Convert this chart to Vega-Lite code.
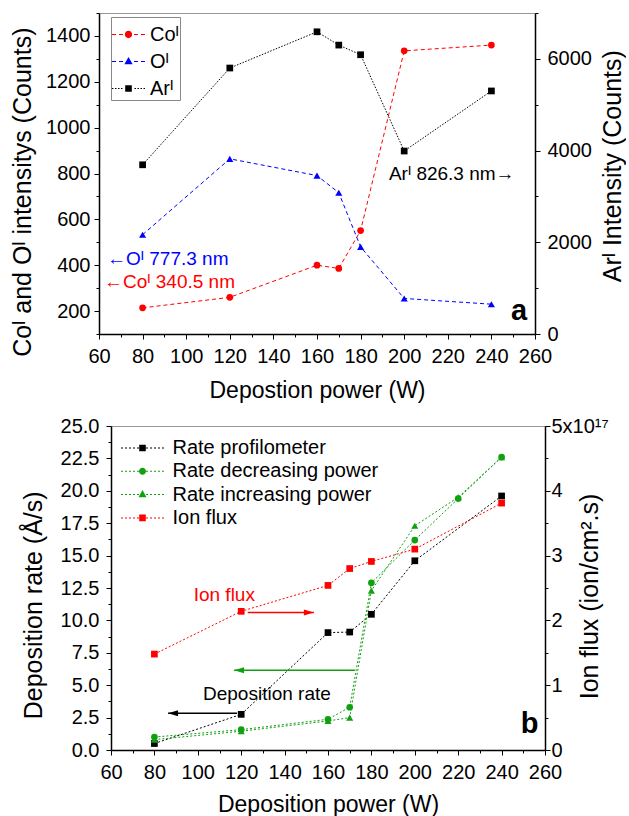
{
  "$schema": "https://vega.github.io/schema/vega-lite/v6.json",
  "padding": {"left": 9, "top": 2, "right": 0, "bottom": 0},
  "spacing": 12,
  "config": {
    "font": "Liberation Sans",
    "view": {"stroke": "#999999", "strokeWidth": 1},
    "axis": {
      "grid": false, "domainColor": "#000000", "domainWidth": 1.5,
      "tickColor": "#000000", "tickWidth": 1,
      "labelFont": "Liberation Sans", "labelFontSize": 20, "labelColor": "#000000",
      "labelOverlap": false, "labelFlush": false, "labelBound": false,
      "titleFont": "Liberation Sans", "titleFontWeight": "normal", "titleColor": "#000000"
    },
    "legend": {"labelFont": "Liberation Sans", "labelFontSize": 20, "labelColor": "#000000", "labelLimit": 400}
  },
  "resolve": {"scale": {"color": "independent", "shape": "independent"}, "legend": {"color": "independent", "shape": "independent"}},
  "datasets": {
    "top": [
      {"power": 80, "series": "Coᴵ", "value": 214}, {"power": 120, "series": "Coᴵ", "value": 260}, {"power": 160, "series": "Coᴵ", "value": 400}, {"power": 170, "series": "Coᴵ", "value": 386}, {"power": 180, "series": "Coᴵ", "value": 551}, {"power": 200, "series": "Coᴵ", "value": 1335}, {"power": 240, "series": "Coᴵ", "value": 1360},
      {"power": 80, "series": "Oᴵ", "value": 533}, {"power": 120, "series": "Oᴵ", "value": 864}, {"power": 160, "series": "Oᴵ", "value": 791}, {"power": 170, "series": "Oᴵ", "value": 716}, {"power": 180, "series": "Oᴵ", "value": 480}, {"power": 200, "series": "Oᴵ", "value": 255}, {"power": 240, "series": "Oᴵ", "value": 230},
      {"power": 80, "series": "Arᴵ", "value": 3690}, {"power": 120, "series": "Arᴵ", "value": 5800}, {"power": 160, "series": "Arᴵ", "value": 6590}, {"power": 170, "series": "Arᴵ", "value": 6300}, {"power": 180, "series": "Arᴵ", "value": 6090}, {"power": 200, "series": "Arᴵ", "value": 3990}, {"power": 240, "series": "Arᴵ", "value": 5300}
    ],
    "topNotes": [
      {"power": 193, "value": 798, "label": "Arᴵ 826.3 nm→", "kind": "ar"},
      {"power": 63.7, "value": 426, "label": "←Oᴵ 777.3 nm", "kind": "o"},
      {"power": 62.3, "value": 326, "label": "←Coᴵ 340.5 nm", "kind": "co"}
    ],
    "topTag": [{"power": 252.7, "value": 161, "label": "a"}],
    "bottom": [
      {"power": 80, "series": "Rate profilometer", "value": 0.5}, {"power": 120, "series": "Rate profilometer", "value": 2.75}, {"power": 160, "series": "Rate profilometer", "value": 9.06}, {"power": 170, "series": "Rate profilometer", "value": 9.1}, {"power": 180, "series": "Rate profilometer", "value": 10.47}, {"power": 200, "series": "Rate profilometer", "value": 14.6}, {"power": 240, "series": "Rate profilometer", "value": 19.6},
      {"power": 80, "series": "Rate decreasing power", "value": 1.0}, {"power": 120, "series": "Rate decreasing power", "value": 1.57}, {"power": 160, "series": "Rate decreasing power", "value": 2.37}, {"power": 170, "series": "Rate decreasing power", "value": 3.3}, {"power": 180, "series": "Rate decreasing power", "value": 12.9}, {"power": 200, "series": "Rate decreasing power", "value": 16.2}, {"power": 220, "series": "Rate decreasing power", "value": 19.4}, {"power": 240, "series": "Rate decreasing power", "value": 22.6},
      {"power": 80, "series": "Rate increasing power", "value": 0.8}, {"power": 120, "series": "Rate increasing power", "value": 1.45}, {"power": 160, "series": "Rate increasing power", "value": 2.24}, {"power": 170, "series": "Rate increasing power", "value": 2.5}, {"power": 180, "series": "Rate increasing power", "value": 12.3}, {"power": 200, "series": "Rate increasing power", "value": 17.3}, {"power": 220, "series": "Rate increasing power", "value": 19.5}, {"power": 240, "series": "Rate increasing power", "value": 22.6},
      {"power": 80, "series": "Ion flux", "value": 1.48}, {"power": 120, "series": "Ion flux", "value": 2.14}, {"power": 160, "series": "Ion flux", "value": 2.54}, {"power": 170, "series": "Ion flux", "value": 2.8}, {"power": 180, "series": "Ion flux", "value": 2.91}, {"power": 200, "series": "Ion flux", "value": 3.1}, {"power": 240, "series": "Ion flux", "value": 3.81}
    ],
    "bottomNotes": [
      {"power": 98.1, "value": 11.94, "label": "Ion flux", "kind": "ion"},
      {"power": 102.4, "value": 4.3, "label": "Deposition rate", "kind": "dep"}
    ],
    "bottomTag": [{"power": 252.9, "value": 1.29, "label": "b"}],
    "arrows": [
      {"name": "ion", "power": 123, "power2": 153.5, "value": 10.6},
      {"name": "green", "power": 116.7, "power2": 172.4, "value": 6.15},
      {"name": "dep", "power": 86.3, "power2": 118.1, "value": 2.83}
    ],
    "heads": [
      {"name": "ion", "power": 153.5, "value": 10.6},
      {"name": "green", "power": 116.7, "value": 6.15},
      {"name": "dep", "power": 86.3, "value": 2.83}
    ]
  },
  "vconcat": [
    {
      "spacing": 0,
      "resolve": {"scale": {"color": "independent", "shape": "independent"}, "legend": {"color": "independent", "shape": "independent"}},
      "hconcat": [
        {"width": 1, "height": 1, "data": {"values": []}, "mark": "point", "encoding": {}, "view": {"stroke": null}},
        {
          "width": 436, "height": 321,
          "encoding": {
            "x": {"field": "power", "type": "quantitative",
              "scale": {"domain": [60, 260], "nice": false, "zero": false},
              "axis": {"title": "Depostion power (W)", "titleFontSize": 23, "titlePadding": 13, "labelPadding": 7,
                "values": [60, 70, 80, 90, 100, 110, 120, 130, 140, 150, 160, 170, 180, 190, 200, 210, 220, 230, 240, 250, 260],
                "labelExpr": "datum.value % 20 === 0 ? format(datum.value, 'd') : ''",
                "tickSize": {"condition": {"test": "datum.value % 20 !== 0", "value": 3}, "value": 5}}}
          },
          "layer": [
            {
              "encoding": {
                "y": {"field": "value", "type": "quantitative",
                  "scale": {"domain": [100, 1500], "nice": false, "zero": false},
                  "axis": {"orient": "left", "title": "Coᴵ and Oᴵ intensitys (Counts)", "titleFontSize": 25, "titlePadding": 10, "titleY": 178.7, "labelPadding": 4,
                    "values": [100, 200, 300, 400, 500, 600, 700, 800, 900, 1000, 1100, 1200, 1300, 1400, 1500],
                    "labelExpr": "datum.value % 200 === 0 && datum.value >= 200 && datum.value <= 1400 ? format(datum.value, 'd') : ''",
                    "tickSize": {"condition": {"test": "datum.value % 200 !== 0", "value": 3}, "value": 5}}}
              },
              "layer": [
                {
                  "data": {"name": "top"},
                  "transform": [{"filter": "datum.series !== 'Arᴵ'"}],
                  "mark": {"type": "point", "filled": true, "opacity": 0, "size": 10},
                  "encoding": {
                    "color": {"field": "series", "type": "nominal",
                      "scale": {"domain": ["Coᴵ", "Oᴵ", "Arᴵ"], "range": ["#ff0000", "#0000ff", "#000000"]},
                      "legend": {"title": null, "orient": "none", "legendX": 12, "legendY": 4, "symbolSize": 1089, "labelOffset": 5,
                        "padding": 1, "rowPadding": -3, "strokeColor": "#888888", "fillColor": "#ffffff", "symbolOpacity": 1, "symbolStrokeWidth": 0}},
                    "shape": {"field": "series", "type": "nominal",
                      "scale": {"domain": ["Coᴵ", "Oᴵ", "Arᴵ"], "range": [
                        "M-1,-0.03H-0.758V0.03H-1Z M-0.576,-0.03H-0.333V0.03H-0.576Z M0.333,-0.03H0.576V0.03H0.333Z M0.758,-0.03H1V0.03H0.758Z M-0.2,-0.03H0.2V0.03H-0.2Z M0.22,0A0.22,0.22,0,1,1,-0.22,0A0.22,0.22,0,1,1,0.22,0Z",
                        "M-1,-0.03H-0.758V0.03H-1Z M-0.576,-0.03H-0.333V0.03H-0.576Z M0.333,-0.03H0.576V0.03H0.333Z M0.758,-0.03H1V0.03H0.758Z M0,-0.28L0.25,0.16L-0.25,0.16Z",
                        "M-1,-0.03H-0.909V0.03H-1Z M-0.818,-0.03H-0.727V0.03H-0.818Z M-0.636,-0.03H-0.545V0.03H-0.636Z M-0.455,-0.03H-0.364V0.03H-0.455Z M0.364,-0.03H0.455V0.03H0.364Z M0.545,-0.03H0.636V0.03H0.545Z M0.727,-0.03H0.818V0.03H0.727Z M0.909,-0.03H1V0.03H0.909Z M-0.2,-0.2H0.2V0.2H-0.2Z"
                      ]},
                      "legend": {"title": null, "orient": "none", "legendX": 12, "legendY": 4, "symbolSize": 1089, "labelOffset": 5,
                        "padding": 1, "rowPadding": -3, "strokeColor": "#888888", "fillColor": "#ffffff", "symbolOpacity": 1, "symbolStrokeWidth": 0}}
                  }
                },
                {
                  "data": {"name": "top"},
                  "transform": [{"filter": "datum.series !== 'Arᴵ'"}],
                  "mark": {"type": "line", "strokeDash": [4, 3], "strokeWidth": 1},
                  "encoding": {"color": {"field": "series", "type": "nominal"}}
                },
                {
                  "data": {"name": "top"},
                  "transform": [{"filter": "datum.series === 'Coᴵ'"}],
                  "mark": {"type": "point", "shape": "circle", "filled": true, "opacity": 1, "size": 45, "color": "#ff0000"},
                  "encoding": {}
                },
                {
                  "data": {"name": "top"},
                  "transform": [{"filter": "datum.series === 'Oᴵ'"}],
                  "mark": {"type": "point", "shape": "triangle-up", "filled": true, "opacity": 1, "size": 50, "color": "#0000ff"},
                  "encoding": {}
                },
                {
                  "data": {"name": "topNotes"},
                  "transform": [{"filter": "datum.kind === 'ar'"}],
                  "mark": {"type": "text", "align": "left", "baseline": "middle", "fontSize": 19, "color": "#000000"},
                  "encoding": {"text": {"field": "label"}}
                },
                {
                  "data": {"name": "topNotes"},
                  "transform": [{"filter": "datum.kind === 'o'"}],
                  "mark": {"type": "text", "align": "left", "baseline": "middle", "fontSize": 19, "color": "#0000ff"},
                  "encoding": {"text": {"field": "label"}}
                },
                {
                  "data": {"name": "topNotes"},
                  "transform": [{"filter": "datum.kind === 'co'"}],
                  "mark": {"type": "text", "align": "left", "baseline": "middle", "fontSize": 19, "color": "#ff0000"},
                  "encoding": {"text": {"field": "label"}}
                },
                {
                  "data": {"name": "topTag"},
                  "mark": {"type": "text", "align": "center", "baseline": "alphabetic", "fontSize": 29, "fontWeight": "bold", "color": "#000000"},
                  "encoding": {"text": {"field": "label"}}
                }
              ]
            },
            {
              "data": {"name": "top"},
              "transform": [{"filter": "datum.series === 'Arᴵ'"}],
              "encoding": {
                "y": {"field": "value", "type": "quantitative",
                  "scale": {"domain": [0, 7000], "nice": false},
                  "axis": {"orient": "right", "title": "Arᴵ Intensity (Counts)", "titleFontSize": 25, "titleAngle": 270, "titleBaseline": "top", "titleX": 65, "titleY": 152.7, "labelPadding": 7,
                    "values": [0, 1000, 2000, 3000, 4000, 5000, 6000, 7000],
                    "labelExpr": "datum.value % 2000 === 0 && datum.value <= 6000 ? format(datum.value, 'd') : ''",
                    "tickSize": {"condition": {"test": "datum.value % 2000 !== 0", "value": 3}, "value": 5}}}
              },
              "layer": [
                {"mark": {"type": "line", "strokeDash": [1.5, 1.5], "strokeWidth": 1, "color": "#000000"}, "encoding": {}},
                {"mark": {"type": "point", "shape": "square", "filled": true, "opacity": 1, "size": 45, "color": "#000000"}, "encoding": {}}
              ]
            }
          ],
          "resolve": {"scale": {"y": "independent"}}
        }
      ]
    },
    {
      "spacing": 0,
      "resolve": {"scale": {"color": "independent", "shape": "independent"}, "legend": {"color": "independent", "shape": "independent"}},
      "hconcat": [
        {"width": 11, "height": 1, "data": {"values": []}, "mark": "point", "encoding": {}, "view": {"stroke": null}},
        {
          "width": 434, "height": 324,
          "encoding": {
            "x": {"field": "power", "type": "quantitative",
              "scale": {"domain": [60, 260], "nice": false, "zero": false},
              "axis": {"title": "Deposition power (W)", "titleFontSize": 23, "titlePadding": 11, "labelPadding": 7,
                "values": [60, 70, 80, 90, 100, 110, 120, 130, 140, 150, 160, 170, 180, 190, 200, 210, 220, 230, 240, 250, 260],
                "labelExpr": "datum.value % 20 === 0 ? format(datum.value, 'd') : ''",
                "tickSize": {"condition": {"test": "datum.value % 20 !== 0", "value": 3}, "value": 5}}}
          },
          "layer": [
            {
              "encoding": {
                "y": {"field": "value", "type": "quantitative",
                  "scale": {"domain": [0, 25], "nice": false, "zero": false},
                  "axis": {"orient": "left", "title": "Deposition rate (Å/s)", "titleFontSize": 25, "titlePadding": 14, "titleY": 178.8, "labelPadding": 7,
                    "values": [0, 1.25, 2.5, 3.75, 5, 6.25, 7.5, 8.75, 10, 11.25, 12.5, 13.75, 15, 16.25, 17.5, 18.75, 20, 21.25, 22.5, 23.75, 25],
                    "labelExpr": "round(datum.value * 100) % 250 === 0 ? format(datum.value, '.1f') : ''",
                    "tickSize": {"condition": {"test": "round(datum.value * 100) % 250 !== 0", "value": 3}, "value": 5}}}
              },
              "layer": [
                {
                  "data": {"name": "bottom"},
                  "transform": [{"filter": "datum.series !== 'Ion flux'"}],
                  "mark": {"type": "point", "filled": true, "opacity": 0, "size": 10},
                  "encoding": {
                    "color": {"field": "series", "type": "nominal",
                      "scale": {"domain": ["Rate profilometer", "Rate decreasing power", "Rate increasing power", "Ion flux"], "range": ["#000000", "#10a010", "#10a010", "#ff0000"]},
                      "legend": {"title": null, "orient": "none", "legendX": 21.5, "legendY": 12, "symbolSize": 400, "labelOffset": 20,
                        "padding": 0, "rowPadding": 3.3, "symbolOpacity": 1, "symbolStrokeWidth": 0}},
                    "shape": {"field": "series", "type": "nominal",
                      "scale": {"domain": ["Rate profilometer", "Rate decreasing power", "Rate increasing power", "Ion flux"], "range": [
                        "M-2.15,-0.05H-1.95V0.05H-2.15Z M-1.75,-0.05H-1.55V0.05H-1.75Z M-1.35,-0.05H-1.15V0.05H-1.35Z M-0.95,-0.05H-0.75V0.05H-0.95Z M-0.55,-0.05H-0.35V0.05H-0.55Z M0.35,-0.05H0.55V0.05H0.35Z M0.75,-0.05H0.95V0.05H0.75Z M1.15,-0.05H1.35V0.05H1.15Z M1.55,-0.05H1.75V0.05H1.55Z M1.95,-0.05H2.15V0.05H1.95Z M-0.33,-0.33H0.33V0.33H-0.33Z",
                        "M-2.15,-0.05H-1.95V0.05H-2.15Z M-1.75,-0.05H-1.55V0.05H-1.75Z M-1.35,-0.05H-1.15V0.05H-1.35Z M-0.95,-0.05H-0.75V0.05H-0.95Z M-0.55,-0.05H-0.35V0.05H-0.55Z M0.35,-0.05H0.55V0.05H0.35Z M0.75,-0.05H0.95V0.05H0.75Z M1.15,-0.05H1.35V0.05H1.15Z M1.55,-0.05H1.75V0.05H1.55Z M1.95,-0.05H2.15V0.05H1.95Z M0.35,0A0.35,0.35,0,1,1,-0.35,0A0.35,0.35,0,1,1,0.35,0Z",
                        "M-2.15,-0.05H-1.95V0.05H-2.15Z M-1.75,-0.05H-1.55V0.05H-1.75Z M-1.35,-0.05H-1.15V0.05H-1.35Z M-0.95,-0.05H-0.75V0.05H-0.95Z M-0.55,-0.05H-0.35V0.05H-0.55Z M0.35,-0.05H0.55V0.05H0.35Z M0.75,-0.05H0.95V0.05H0.75Z M1.15,-0.05H1.35V0.05H1.15Z M1.55,-0.05H1.75V0.05H1.55Z M1.95,-0.05H2.15V0.05H1.95Z M0,-0.47L0.4,0.26L-0.4,0.26Z",
                        "M-2.15,-0.05H-1.95V0.05H-2.15Z M-1.75,-0.05H-1.55V0.05H-1.75Z M-1.35,-0.05H-1.15V0.05H-1.35Z M-0.95,-0.05H-0.75V0.05H-0.95Z M-0.55,-0.05H-0.35V0.05H-0.55Z M0.35,-0.05H0.55V0.05H0.35Z M0.75,-0.05H0.95V0.05H0.75Z M1.15,-0.05H1.35V0.05H1.15Z M1.55,-0.05H1.75V0.05H1.55Z M1.95,-0.05H2.15V0.05H1.95Z M-0.33,-0.33H0.33V0.33H-0.33Z"
                      ]},
                      "legend": {"title": null, "orient": "none", "legendX": 21.5, "legendY": 12, "symbolSize": 400, "labelOffset": 20,
                        "padding": 0, "rowPadding": 3.3, "symbolOpacity": 1, "symbolStrokeWidth": 0}}
                  }
                },
                {
                  "data": {"name": "bottom"},
                  "transform": [{"filter": "datum.series !== 'Ion flux'"}],
                  "mark": {"type": "line", "strokeDash": [2, 2], "strokeWidth": 1},
                  "encoding": {"color": {"field": "series", "type": "nominal"}}
                },
                {
                  "data": {"name": "bottom"},
                  "transform": [{"filter": "datum.series === 'Rate profilometer'"}],
                  "mark": {"type": "point", "shape": "square", "filled": true, "opacity": 1, "size": 45, "color": "#000000"},
                  "encoding": {}
                },
                {
                  "data": {"name": "bottom"},
                  "transform": [{"filter": "datum.series === 'Rate decreasing power'"}],
                  "mark": {"type": "point", "shape": "circle", "filled": true, "opacity": 1, "size": 45, "color": "#10a010"},
                  "encoding": {}
                },
                {
                  "data": {"name": "bottom"},
                  "transform": [{"filter": "datum.series === 'Rate increasing power'"}],
                  "mark": {"type": "point", "shape": "triangle-up", "filled": true, "opacity": 1, "size": 50, "color": "#10a010"},
                  "encoding": {}
                },
                {
                  "data": {"name": "arrows"},
                  "transform": [{"filter": "datum.name === 'ion'"}],
                  "mark": {"type": "rule", "color": "#ff0000", "strokeWidth": 1.5},
                  "encoding": {"x2": {"field": "power2"}}
                },
                {
                  "data": {"name": "arrows"},
                  "transform": [{"filter": "datum.name === 'green'"}],
                  "mark": {"type": "rule", "color": "#10a010", "strokeWidth": 1.5},
                  "encoding": {"x2": {"field": "power2"}}
                },
                {
                  "data": {"name": "arrows"},
                  "transform": [{"filter": "datum.name === 'dep'"}],
                  "mark": {"type": "rule", "color": "#000000", "strokeWidth": 1.5},
                  "encoding": {"x2": {"field": "power2"}}
                },
                {
                  "data": {"name": "heads"},
                  "transform": [{"filter": "datum.name === 'ion'"}],
                  "mark": {"type": "point", "shape": "M0,0L-2,-0.6L-2,0.6Z", "filled": true, "opacity": 1, "size": 100, "color": "#ff0000"},
                  "encoding": {}
                },
                {
                  "data": {"name": "heads"},
                  "transform": [{"filter": "datum.name === 'green'"}],
                  "mark": {"type": "point", "shape": "M0,0L2,-0.6L2,0.6Z", "filled": true, "opacity": 1, "size": 100, "color": "#10a010"},
                  "encoding": {}
                },
                {
                  "data": {"name": "heads"},
                  "transform": [{"filter": "datum.name === 'dep'"}],
                  "mark": {"type": "point", "shape": "M0,0L2,-0.6L2,0.6Z", "filled": true, "opacity": 1, "size": 100, "color": "#000000"},
                  "encoding": {}
                },
                {
                  "data": {"name": "bottomNotes"},
                  "transform": [{"filter": "datum.kind === 'ion'"}],
                  "mark": {"type": "text", "align": "left", "baseline": "middle", "fontSize": 19, "color": "#ff0000"},
                  "encoding": {"text": {"field": "label"}}
                },
                {
                  "data": {"name": "bottomNotes"},
                  "transform": [{"filter": "datum.kind === 'dep'"}],
                  "mark": {"type": "text", "align": "left", "baseline": "middle", "fontSize": 19, "color": "#000000"},
                  "encoding": {"text": {"field": "label"}}
                },
                {
                  "data": {"name": "bottomTag"},
                  "mark": {"type": "text", "align": "center", "baseline": "alphabetic", "fontSize": 29, "fontWeight": "bold", "color": "#000000"},
                  "encoding": {"text": {"field": "label"}}
                }
              ]
            },
            {
              "data": {"name": "bottom"},
              "transform": [{"filter": "datum.series === 'Ion flux'"}],
              "encoding": {
                "y": {"field": "value", "type": "quantitative",
                  "scale": {"domain": [0, 5], "nice": false},
                  "axis": {"orient": "right", "title": "Ion flux (ion/cm².s)", "titleFontSize": 25, "titleAngle": 270, "titleBaseline": "top", "titleX": 32, "titleY": 170, "labelPadding": 1,
                    "values": [0, 0.5, 1, 1.5, 2, 2.5, 3, 3.5, 4, 4.5, 5],
                    "labelExpr": "datum.value === 5 ? '5x10¹⁷' : (datum.value % 1 === 0 ? format(datum.value, 'd') : '')",
                    "tickSize": {"condition": {"test": "datum.value % 1 !== 0", "value": 3}, "value": 5}}}
              },
              "layer": [
                {"mark": {"type": "line", "strokeDash": [2, 2], "strokeWidth": 1, "color": "#ff0000"}, "encoding": {}},
                {"mark": {"type": "point", "shape": "square", "filled": true, "opacity": 1, "size": 45, "color": "#ff0000"}, "encoding": {}}
              ]
            }
          ],
          "resolve": {"scale": {"y": "independent"}}
        }
      ]
    }
  ]
}
